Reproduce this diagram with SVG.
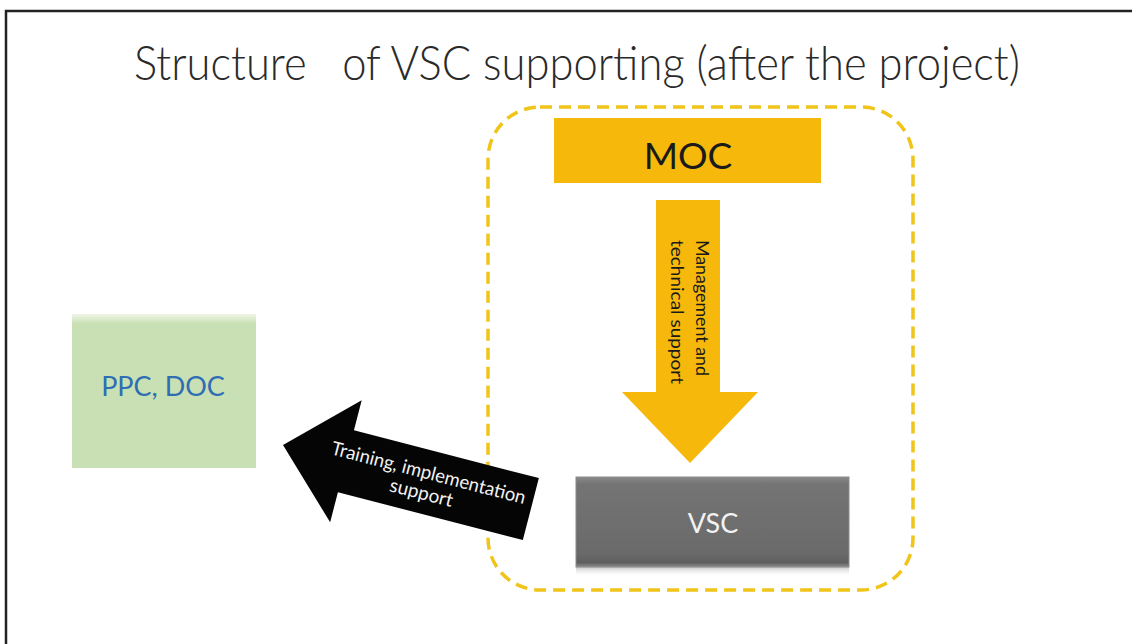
<svg xmlns="http://www.w3.org/2000/svg" width="1132" height="644" viewBox="0 0 1132 644">
  <style>
    .t { font-family: Lato, "Liberation Sans", sans-serif; }
    .title { font-size: 47px; font-weight: 300; fill: #2a2a2a; white-space: pre; }
    .lbl-dark { fill: #1a1a1a; }
    .lbl-white { fill: #f2f2f2; }
  </style>
  <defs>
    <linearGradient id="vscGrad" x1="0" y1="0" x2="0" y2="1">
      <stop offset="0" stop-color="#8a8a8a"/>
      <stop offset="0.08" stop-color="#747474"/>
      <stop offset="0.85" stop-color="#6a6a6a"/>
      <stop offset="0.95" stop-color="#5e5e5e"/>
      <stop offset="1" stop-color="#8d8d8d"/>
    </linearGradient>
    <linearGradient id="vscShadow" x1="0" y1="0" x2="0" y2="1">
      <stop offset="0" stop-color="#9a9a9a" stop-opacity="0.8"/>
      <stop offset="1" stop-color="#ffffff" stop-opacity="0"/>
    </linearGradient>
    <linearGradient id="ppcTop" x1="0" y1="0" x2="0" y2="1">
      <stop offset="0" stop-color="#eef5e6"/>
      <stop offset="1" stop-color="#c8e0b3"/>
    </linearGradient>
  </defs>

  <rect width="1132" height="644" fill="#ffffff"/>
  <path d="M6,644 V11 H1132" fill="none" stroke="#222222" stroke-width="2.5"/>

  <g id="title">
    <text class="t title" x="577" y="80" text-anchor="middle" textLength="886" lengthAdjust="spacingAndGlyphs">Structure   of VSC supporting (after the project)</text>
  </g>

  <g id="container">
    <rect x="488" y="107" width="425" height="483" rx="52" ry="52" fill="none" stroke="#f0c419" stroke-width="3.5" stroke-dasharray="12 7"/>
  </g>

  <g id="moc">
    <rect x="554" y="118" width="267" height="65" fill="#f6b80b"/>
    <text class="t lbl-dark" x="688" y="169" text-anchor="middle" font-size="37">MOC</text>
  </g>

  <g id="vsc">
    <rect x="576" y="565" width="273" height="12" fill="url(#vscShadow)"/>
    <rect x="576" y="477" width="273" height="90" fill="url(#vscGrad)" stroke="#8c8c8c" stroke-width="1"/>
    <text class="t lbl-white" x="713" y="533" text-anchor="middle" font-size="27">VSC</text>
  </g>

  <g id="ppc-doc">
    <rect x="72" y="318" width="184" height="150" fill="#c8e0b3"/>
    <rect x="72" y="314" width="184" height="10" fill="url(#ppcTop)"/>
    <text class="t" x="163" y="396" text-anchor="middle" font-size="27" fill="#2f6db5">PPC, DOC</text>
  </g>

  <g id="connectors">
    <g id="moc-to-vsc">
      <polygon points="656,200 720,200 720,392 758,392 690,463 622,392 656,392" fill="#f6b80b"/>
      <text class="t lbl-dark" font-size="17" text-anchor="middle" transform="translate(696,308) rotate(90)" textLength="136" lengthAdjust="spacingAndGlyphs">Management and</text>
      <text class="t lbl-dark" font-size="17" text-anchor="middle" transform="translate(671,312) rotate(90)" textLength="144" lengthAdjust="spacingAndGlyphs">technical support</text>
    </g>
    <g id="vsc-to-ppc" transform="translate(283,445) rotate(14.5)">
      <polygon points="0,0 65,-63 65,-32 256,-32 256,32 65,32 65,63" fill="#050505"/>
      <text class="t lbl-white" x="148" y="-3" text-anchor="middle" font-size="19" textLength="200" lengthAdjust="spacingAndGlyphs">Training, implementation</text>
      <text class="t lbl-white" x="146" y="18" text-anchor="middle" font-size="19">support</text>
    </g>
  </g>
</svg>
